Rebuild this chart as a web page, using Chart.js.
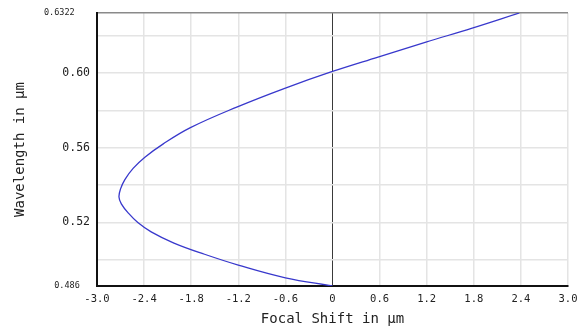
<!DOCTYPE html>
<html>
<head>
<meta charset="utf-8">
<script src="https://cdn.jsdelivr.net/npm/chart.js@4.4.1/dist/chart.umd.min.js"></script>
<style>
  html, body { margin: 0; padding: 0; background: #fff; }
  #wrap { width: 585px; height: 331px; position: relative; }
</style>
</head>
<body>
<div id="wrap"><canvas id="c" width="585" height="331"></canvas></div>
<script>
// Wavelength (µm) along the curve
const wavelengths = [0.4860, 0.4904, 0.4972, 0.5030, 0.5090, 0.5150, 0.5200, 0.5250, 0.5300, 0.5337,
                     0.5380, 0.5430, 0.5490, 0.5550, 0.5620, 0.5708, 0.5818, 0.5920, 0.6009,
                     0.6086, 0.6166, 0.6241, 0.6322];
// Focal shift (µm) at each wavelength
const focalShift = [0.00, -0.60, -1.20, -1.63, -2.02, -2.31, -2.48, -2.60, -2.69, -2.72,
                    -2.70, -2.645, -2.54, -2.39, -2.16, -1.81, -1.22, -0.60, 0.00,
                    0.58, 1.19, 1.78, 2.38];
// Axis tick values
const xTicks = [-3.0, -2.4, -1.8, -1.2, -0.6, 0, 0.6, 1.2, 1.8, 2.4, 3.0];
const xTickLabels = ['-3.0', '-2.4', '-1.8', '-1.2', '-0.6', '0', '0.6', '1.2', '1.8', '2.4', '3.0'];
const yTicks = [0.486, 0.50, 0.52, 0.54, 0.56, 0.58, 0.60, 0.62, 0.6322];
const yTickLabels = ['0.486  ', '', '0.52', '', '0.56', '', '0.60', '', '0.6322   '];

const points = wavelengths.map((w, i) => ({ x: focalShift[i], y: w }));
const MONO = "'DejaVu Sans Mono', monospace";

function idxOf(arr, v) {
  for (let i = 0; i < arr.length; i++) if (Math.abs(arr[i] - v) < 1e-6) return i;
  return -1;
}

new Chart(document.getElementById('c'), {
  type: 'line',
  data: {
    datasets: [{
      data: points,
      borderColor: '#3838cc',
      borderWidth: 1.3,
      pointRadius: 0,
      tension: 0.4,
      fill: false
    }]
  },
  options: {
    indexAxis: 'y',
    responsive: false,
    animation: false,
    devicePixelRatio: 1,
    layout: { padding: { left: 0, right: 17, top: 13, bottom: 0 } },
    plugins: { legend: { display: false }, tooltip: { enabled: false } },
    scales: {
      x: {
        type: 'linear',
        position: 'bottom',
        min: -3.0, max: 3.0,
        afterBuildTicks: s => { s.ticks = xTicks.map(v => ({ value: v })); },
        afterFit: s => { s.height = 45; },
        ticks: {
          callback: v => { const i = idxOf(xTicks, v); return i >= 0 ? xTickLabels[i] : ''; },
          font: { family: MONO, size: 10.5 },
          color: '#222',
          padding: 7,
          maxRotation: 0,
          autoSkip: false
        },
        grid: {
          drawTicks: false,
          color: ctx => (ctx.tick && Math.abs(ctx.tick.value) < 1e-9) ? '#3a3a3a' : '#e4e4e4',
          lineWidth: ctx => (ctx.tick && Math.abs(ctx.tick.value) < 1e-9) ? 1 : 1.5
        },
        border: { display: true, color: '#111', width: 2 },
        title: {
          display: true,
          text: 'Focal Shift in µm',
          font: { family: MONO, size: 14 },
          color: '#222',
          padding: { top: 0, bottom: 3 }
        }
      },
      y: {
        type: 'linear',
        position: 'left',
        min: 0.486, max: 0.6322,
        afterBuildTicks: s => { s.ticks = yTicks.map(v => ({ value: v })); },
        afterFit: s => { s.width = 97; },
        ticks: {
          callback: v => { const i = idxOf(yTicks, v); return i >= 0 ? yTickLabels[i] : ''; },
          font: ctx => {
            const v = ctx.tick ? ctx.tick.value : 0;
            const small = Math.abs(v - 0.486) < 1e-6 || Math.abs(v - 0.6322) < 1e-6;
            return { family: MONO, size: small ? 8.5 : 11.5 };
          },
          color: '#222',
          padding: 7,
          autoSkip: false
        },
        grid: {
          drawTicks: false,
          color: ctx => (ctx.tick && Math.abs(ctx.tick.value - 0.6322) < 1e-6) ? '#8a8a8a' : '#e4e4e4',
          lineWidth: 1.5
        },
        border: { display: true, color: '#111', width: 2 },
        title: {
          display: true,
          text: 'Wavelength in µm',
          font: { family: MONO, size: 14 },
          color: '#222',
          padding: { top: 12, bottom: 0 }
        }
      }
    }
  }
});
</script>
</body>
</html>
